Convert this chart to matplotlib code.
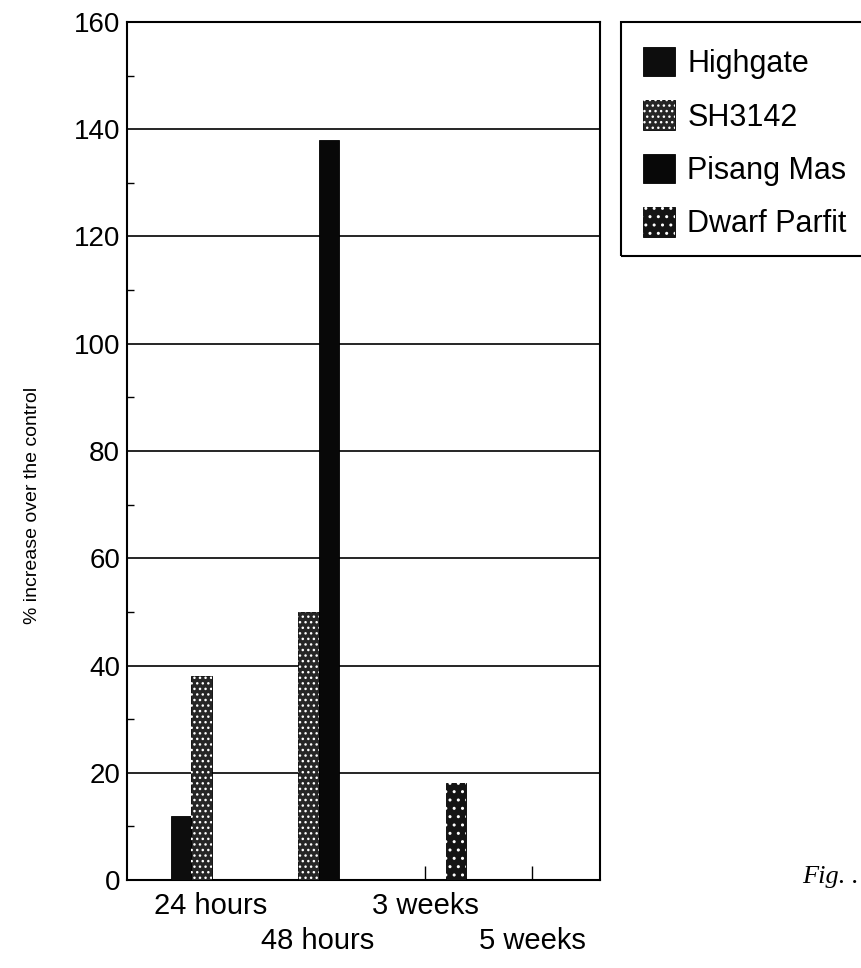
import numpy as np
import matplotlib
matplotlib.use('Agg')
import matplotlib.pyplot as plt
from matplotlib.patches import Patch, Rectangle

plt.rcParams['font.family'] = ['Liberation Sans', 'DejaVu Sans']
plt.rcParams['hatch.linewidth'] = 1.0

# dados
categorias = ['24 hours', '48 hours', '3 weeks', '5 weeks']
nomes = ['Highgate', 'SH3142', 'Pisang Mas', 'Dwarf Parfit']
highgate = [12, 0, 0, 0]
sh3142 = [38, 50, 0, 0]
pisang_mas = [0, 138, 0, 0]
dwarf_parfit = [0, 0, 18, 0]
valores = [highgate, sh3142, pisang_mas, dwarf_parfit]

# estilo de cada serie
cores = ['#0d0d0d', '#262626', '#080808', '#141414']
hachuras = [None, '...', None, '..']
desloc = [-0.28, -0.09, 0.10, 0.29]
largura = 0.19

fig = plt.figure(figsize=(8.62, 9.68), dpi=100)
ax = fig.add_axes([127/862, 1 - 880/968, 473/862, 858/968])

x = np.arange(len(categorias))
handles = []
for i in range(len(nomes)):
	ax.bar(x + desloc[i], valores[i], largura, color=cores[i], edgecolor='black', linewidth=0.6, zorder=3)
	base = Patch(facecolor=cores[i], edgecolor='black', linewidth=0.6)
	if hachuras[i]:
		ax.bar(x + desloc[i], valores[i], largura, color='none', edgecolor='white', hatch=hachuras[i], linewidth=0, zorder=4)
		handles.append((base, Patch(facecolor='none', edgecolor='white', hatch=hachuras[i], linewidth=0)))
	else:
		handles.append(base)

ax.set_ylim(0, 160)
ax.set_yticks(np.arange(0, 161, 20))
ax.set_yticks(np.arange(10, 160, 20), minor=True)
ax.tick_params(axis='y', which='major', length=0, pad=5, labelsize=20)
ax.tick_params(axis='y', which='minor', direction='in', length=5, width=1)
ax.yaxis.grid(True, which='major', color='black', linewidth=1.2)
ax.set_axisbelow(True)

ax.set_xlim(-0.785, 3.636)
ax.set_xticks(x)
ax.set_xticklabels(categorias)
ax.tick_params(axis='x', direction='in', length=10, width=1, labelsize=21)
for k, t in enumerate(ax.xaxis.get_major_ticks()):
	t.set_pad(9 if k % 2 == 0 else 34)

for s in ax.spines.values():
	s.set_linewidth(1.5)

fig.text(33/862, 1 - 505/968, '% increase over the control', rotation=90, fontsize=14, ha='center', va='center')
fig.text(802/862, 1 - 877/968, 'Fig. .', fontsize=19, style='italic', family='Liberation Serif', va='center')

# caixa da legenda (sai pela borda direita)
fig.patches.append(Rectangle((621/862, 1 - 256/968), 0.5, 234/968, transform=fig.transFigure,
	fill=False, edgecolor='black', linewidth=1.5))
fig.legend(handles, nomes, loc='upper left', bbox_to_anchor=(643/862, 1 - 47/968), frameon=False,
	fontsize=22, handlelength=1.05, handleheight=1.1, handletextpad=0.4, labelspacing=0.7,
	borderpad=0, borderaxespad=0)

plt.savefig('out.png', dpi=100)
